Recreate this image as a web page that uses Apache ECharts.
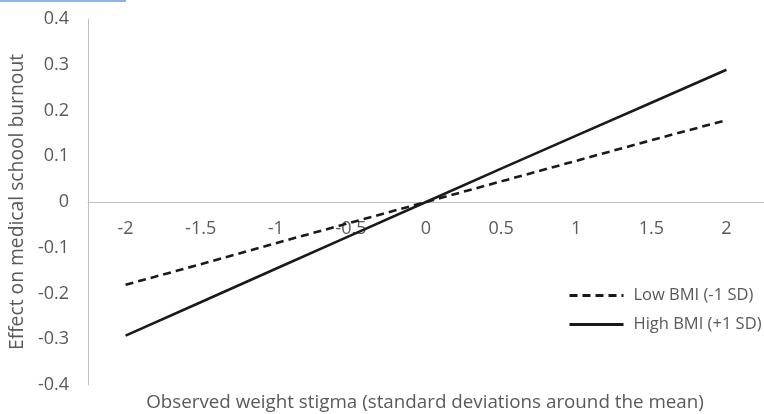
<!DOCTYPE html>
<html>
<head>
<meta charset="utf-8">
<script src="https://cdn.jsdelivr.net/npm/echarts@6/dist/echarts.min.js"></script>
<style>
html,body{margin:0;padding:0;background:#fff;}
#chart{width:764px;height:414px;}
</style>
</head>
<body>
<div id="chart"></div>
<script>
var categories = ['-2', '-1.5', '-1', '-0.5', '0', '0.5', '1', '1.5', '2'];
var lowBMI = [-0.181, -0.136, -0.09, -0.045, 0, 0.045, 0.09, 0.135, 0.179];
var highBMI = [-0.292, -0.219, -0.146, -0.073, 0, 0.073, 0.145, 0.217, 0.289];
var seriesNames = ['Low BMI (-1 SD)', 'High BMI (+1 SD)'];
var yTicks = { min: -0.4, max: 0.4, interval: 0.1 };
var yTitle = 'Effect on medical school burnout';
var xTitle = 'Observed weight stigma (standard deviations around the mean)';

var FONT = 'Open Sans';
var GREY = '#595959';

var chart = echarts.init(document.getElementById('chart'), null, { renderer: 'canvas' });
chart.setOption({
  animation: false,
  backgroundColor: '#ffffff',
  textStyle: { fontFamily: FONT },
  grid: { left: 88, right: 0, top: 19, bottom: 29, containLabel: false },
  xAxis: {
    type: 'category',
    data: categories,
    boundaryGap: true,
    position: 'bottom',
    offset: -183,
    axisLine: { show: true, onZero: false, lineStyle: { color: '#bfbfbf', width: 1 } },
    axisTick: { show: false },
    axisLabel: { color: GREY, fontSize: 18, margin: 18, fontFamily: FONT },
    splitLine: { show: false }
  },
  yAxis: {
    type: 'value',
    min: yTicks.min,
    max: yTicks.max,
    interval: yTicks.interval,
    name: yTitle,
    nameLocation: 'middle',
    nameRotate: 90,
    nameGap: 55,
    nameTextStyle: { color: GREY, fontSize: 19.3, fontFamily: FONT },
    axisLine: { show: true, lineStyle: { color: '#bfbfbf', width: 1 } },
    axisTick: { show: false },
    axisLabel: {
      color: GREY, fontSize: 18, margin: 19, fontFamily: FONT,
      formatter: function (v) { return String(Math.round(v * 10) / 10); }
    },
    splitLine: { show: false }
  },
  legend: {
    orient: 'vertical',
    left: 563,
    top: 282,
    itemWidth: 54,
    itemHeight: 16,
    itemGap: 12,
    itemStyle: { opacity: 0 },
    lineStyle: { width: 3 },
    textStyle: { color: GREY, fontSize: 16.5, lineHeight: 16, fontFamily: FONT, padding: [0, 0, 0, 5] },
    data: seriesNames
  },
  graphic: [
    {
      type: 'line',
      shape: { x1: 0, y1: 1, x2: 126, y2: 1 },
      style: { stroke: '#8eb4e3', lineWidth: 2 }
    },
    {
      type: 'text',
      x: 425,
      y: 403,
      style: {
        text: xTitle,
        fill: GREY,
        font: '18.8px "' + FONT + '"',
        textAlign: 'center',
        textVerticalAlign: 'middle'
      }
    }
  ],
  series: [
    {
      name: seriesNames[0],
      type: 'line',
      data: lowBMI,
      symbol: 'none',
      lineStyle: { color: '#1a1a1a', width: 2.6, type: [8, 5], cap: 'butt' },
      itemStyle: { color: '#1a1a1a' }
    },
    {
      name: seriesNames[1],
      type: 'line',
      data: highBMI,
      symbol: 'none',
      lineStyle: { color: '#1a1a1a', width: 2.6, type: 'solid' },
      itemStyle: { color: '#1a1a1a' }
    }
  ]
});
</script>
</body>
</html>
